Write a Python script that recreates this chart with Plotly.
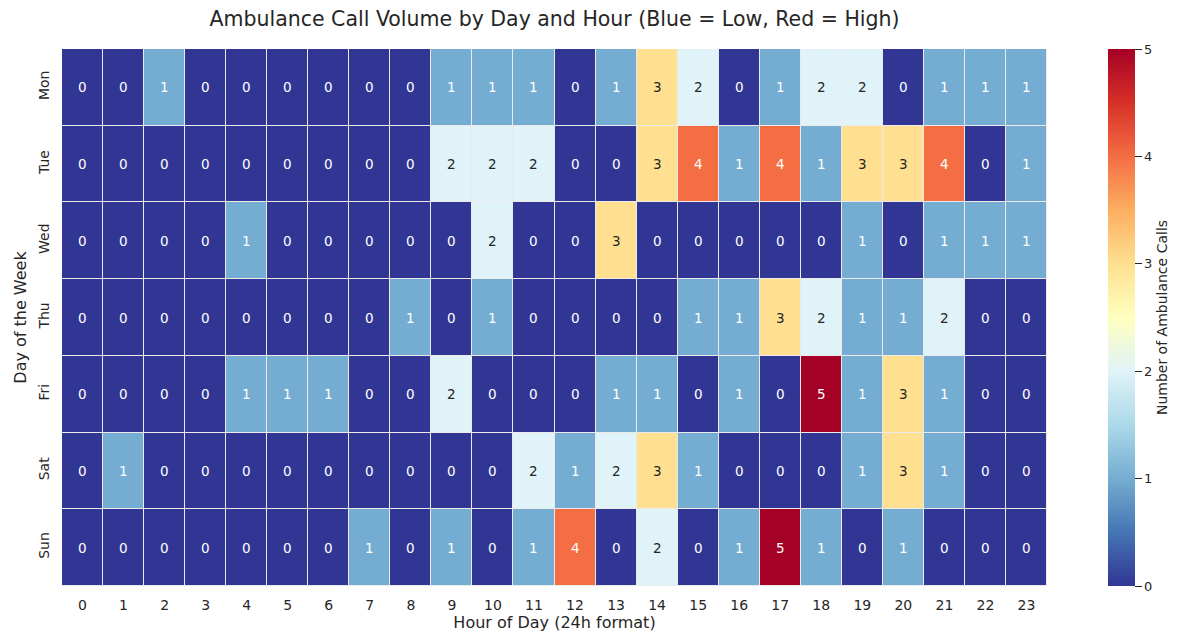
import plotly.graph_objects as go

days = ["Mon", "Tue", "Wed", "Thu", "Fri", "Sat", "Sun"]
hours = list(range(24))
mon = [0, 0, 1, 0, 0, 0, 0, 0, 0, 1, 1, 1, 0, 1, 3, 2, 0, 1, 2, 2, 0, 1, 1, 1]
tue = [0, 0, 0, 0, 0, 0, 0, 0, 0, 2, 2, 2, 0, 0, 3, 4, 1, 4, 1, 3, 3, 4, 0, 1]
wed = [0, 0, 0, 0, 1, 0, 0, 0, 0, 0, 2, 0, 0, 3, 0, 0, 0, 0, 0, 1, 0, 1, 1, 1]
thu = [0, 0, 0, 0, 0, 0, 0, 0, 1, 0, 1, 0, 0, 0, 0, 1, 1, 3, 2, 1, 1, 2, 0, 0]
fri = [0, 0, 0, 0, 1, 1, 1, 0, 0, 2, 0, 0, 0, 1, 1, 0, 1, 0, 5, 1, 3, 1, 0, 0]
sat = [0, 1, 0, 0, 0, 0, 0, 0, 0, 0, 0, 2, 1, 2, 3, 1, 0, 0, 0, 1, 3, 1, 0, 0]
sun = [0, 0, 0, 0, 0, 0, 0, 1, 0, 1, 0, 1, 4, 0, 2, 0, 1, 5, 1, 0, 1, 0, 0, 0]
z = [mon, tue, wed, thu, fri, sat, sun]

rdylbu_r = ['#313695', '#4575b4', '#74add1', '#abd9e9', '#e0f3f8', '#ffffbf',
            '#fee090', '#fdae61', '#f46d43', '#d73027', '#a50026']
colorscale = [[i / 10, c] for i, c in enumerate(rdylbu_r)]

font = "DejaVu Sans"
dark = "#262626"

# page body has an 8px margin, so the figure is drawn 8px in from the window edge
W, H = 1175, 631
ML, MR, MT, MB = 49, 131, 41, 50
plot_w = W - ML - MR

fig = go.Figure(go.Heatmap(
    z=z, x=hours, y=days, colorscale=colorscale, zmin=0, zmax=5,
    xgap=1, ygap=1,
    colorbar=dict(
        x=(1106 - ML) / plot_w, xanchor="left", xpad=0, ypad=0,
        y=0.5, yanchor="middle", len=1, lenmode="fraction",
        thickness=27, outlinewidth=0,
        ticks="outside", ticklen=7, tickcolor=dark,
        tickvals=[0, 1, 2, 3, 4, 5],
        tickfont=dict(family=font, size=13, color=dark),
        title=dict(text="Number of Ambulance Calls", side="right",
                   font=dict(family=font, size=14, color=dark)),
    ),
    hoverongaps=False,
))

annotations = []
for di, d in enumerate(days):
    for h in hours:
        v = z[di][h]
        col = dark if v in (2, 3) else "white"
        annotations.append(dict(x=h, y=d, text=str(v), showarrow=False,
                                font=dict(family=font, size=13.5, color=col)))

fig.update_layout(
    width=W, height=H,
    margin=dict(l=ML, r=MR, t=MT, b=MB),
    paper_bgcolor="white", plot_bgcolor="#eaeaea",
    font=dict(family=font, color=dark),
    title=dict(text="Ambulance Call Volume by Day and Hour (Blue = Low, Red = High)",
               x=0.5, xref="paper", xanchor="center",
               y=1 - 11 / H, yref="container", yanchor="middle",
               font=dict(family=font, size=20.5, color=dark)),
    annotations=annotations,
    xaxis=dict(tickmode="array", tickvals=hours, ticktext=[str(h) for h in hours],
               ticks="outside", ticklen=6, tickcolor="rgba(0,0,0,0)",
               tickfont=dict(family=font, size=14, color=dark),
               showgrid=False, zeroline=False, showline=False,
               title=dict(text="Hour of Day (24h format)", standoff=3,
                          font=dict(family=font, size=16, color=dark))),
    yaxis=dict(autorange="reversed", tickangle=-90,
               ticks="outside", ticklen=6, tickcolor="rgba(0,0,0,0)",
               tickfont=dict(family=font, size=14, color=dark),
               showgrid=False, zeroline=False, showline=False,
               title=dict(text="Day of the Week", standoff=5,
                          font=dict(family=font, size=16, color=dark))),
)

fig.write_html("out.html")
